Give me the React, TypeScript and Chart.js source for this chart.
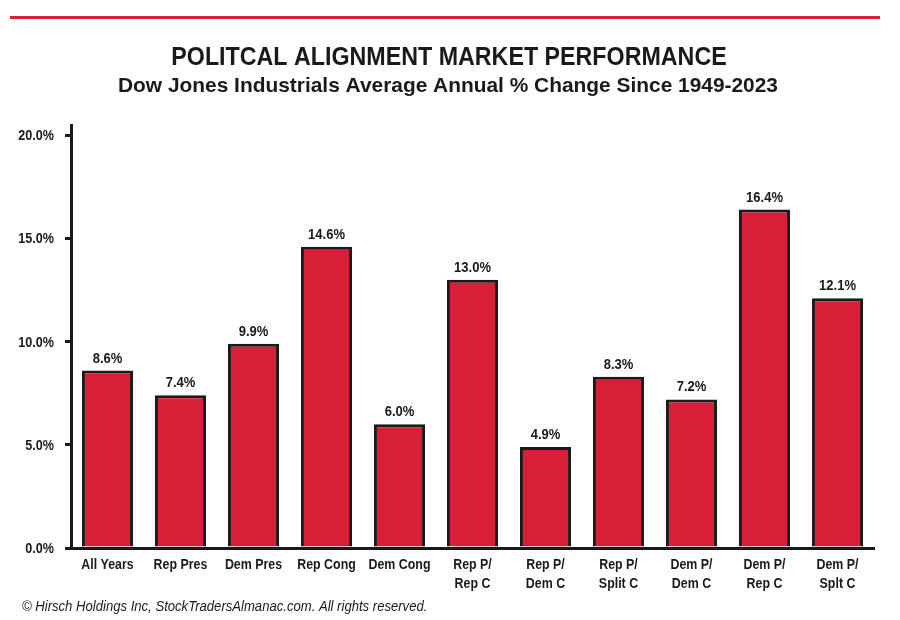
import React, { useEffect, useRef } from "react";
import { Chart, registerables } from "chart.js";

Chart.register(...registerables);

const categories: string[][] = [
  ["All Years"],
  ["Rep Pres"],
  ["Dem Pres"],
  ["Rep Cong"],
  ["Dem Cong"],
  ["Rep P/", "Rep C"],
  ["Rep P/", "Dem C"],
  ["Rep P/", "Split C"],
  ["Dem P/", "Dem C"],
  ["Dem P/", "Rep C"],
  ["Dem P/", "Splt C"],
];
const values: number[] = [8.6, 7.4, 9.9, 14.6, 6.0, 13.0, 4.9, 8.3, 7.2, 16.4, 12.1];
const yTicks: number[] = [0, 5, 10, 15, 20];
const titleText = "POLITCAL ALIGNMENT MARKET PERFORMANCE";
const subtitleText = "Dow Jones Industrials Average Annual % Change Since 1949-2023";
const footerText = "© Hirsch Holdings Inc, StockTradersAlmanac.com. All rights reserved.";

const SANS = '"Liberation Sans", Arial, Helvetica, sans-serif';
const RED = "#d91f37";
const INK = "#1a1a1a";

function drawText(ctx: CanvasRenderingContext2D, text: string, x: number, y: number, font: string, align: "left" | "center" | "right", sx: number) {
  ctx.save();
  ctx.font = font;
  ctx.textAlign = align;
  ctx.textBaseline = "alphabetic";
  ctx.translate(x, y);
  ctx.scale(sx, 1);
  ctx.fillText(text, 0, 0);
  ctx.restore();
}

export default function App() {
  const ref = useRef<HTMLCanvasElement>(null);
  useEffect(() => {
    if (!ref.current) return;
    const decor = {
      id: "decor",
      afterDraw(chart: any) {
        const ctx: CanvasRenderingContext2D = chart.ctx;
        ctx.save();
        ctx.fillStyle = RED;
        ctx.fillRect(10, 16, 870, 3);
        ctx.fillStyle = INK;
        drawText(ctx, titleText, 449, 65, `bold 25px ${SANS}`, "center", 0.93);
        drawText(ctx, subtitleText, 448, 92, `bold 21px ${SANS}`, "center", 0.995);
        drawText(ctx, footerText, 22, 611, `italic 15.5px ${SANS}`, "left", 0.845);
        // value labels
        const meta = chart.getDatasetMeta(0);
        meta.data.forEach((bar: any, i: number) => {
          drawText(ctx, values[i].toFixed(1) + "%", bar.x, bar.y - 8, `bold 14px ${SANS}`, "center", 0.93);
        });
        // x category labels
        const xs = chart.scales.x;
        categories.forEach((lines, i) => {
          const px = xs.getPixelForTick(i);
          lines.forEach((ln, j) => {
            drawText(ctx, ln, px, 569 + j * 19, `bold 15.5px ${SANS}`, "center", 0.8);
          });
        });
        // y tick labels
        const ys = chart.scales.y;
        yTicks.forEach((v) => {
          const py = ys.getPixelForValue(v);
          drawText(ctx, v.toFixed(1) + "%", 54, py + 5, `bold 14px ${SANS}`, "right", 0.9);
        });
        ctx.restore();
      },
    };
    const chart = new Chart(ref.current, {
      type: "bar",
      data: {
        labels: categories.map((c) => c.join(" ")),
        datasets: [
          {
            data: values,
            backgroundColor: RED,
            borderColor: INK,
            borderWidth: 3,
            borderSkipped: "bottom",
            barPercentage: 0.7,
            categoryPercentage: 1,
          },
        ],
      },
      options: {
        animation: false,
        responsive: false,
        layout: { padding: { top: 125, right: 26, bottom: 0, left: 0 } },
        plugins: { legend: { display: false }, tooltip: { enabled: false } },
        scales: {
          x: {
            grid: { display: false },
            border: { color: INK, width: 3 },
            ticks: { display: false },
            afterFit(scale: any) {
              scale.height = 72;
            },
          },
          y: {
            min: 0,
            max: 20.5,
            afterBuildTicks(scale: any) {
              scale.ticks = yTicks.map((v) => ({ value: v }));
            },
            grid: {
              drawOnChartArea: false,
              color: INK,
              tickLength: 6,
              lineWidth: 3,
            },
            border: { color: INK, width: 3 },
            ticks: { display: false },
            afterFit(scale: any) {
              scale.width = 71;
            },
          },
        },
      },
      plugins: [decor],
    });
    return () => chart.destroy();
  }, []);
  return (
    <div style={{ position: "fixed", left: 0, top: 0, width: 900, height: 620, background: "#fff" }}>
      <canvas ref={ref} width={900} height={620} style={{ width: 900, height: 620 }} />
    </div>
  );
}
